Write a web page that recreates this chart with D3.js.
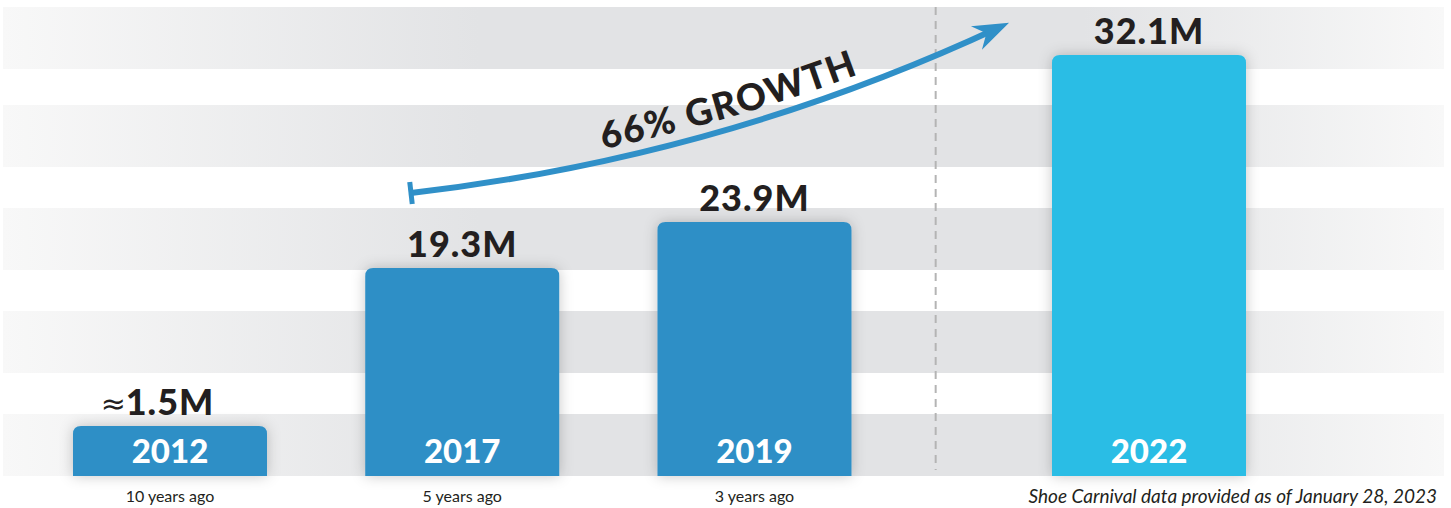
<!DOCTYPE html>
<html>
<head>
<meta charset="utf-8">
<script src="https://cdn.jsdelivr.net/npm/d3@7"></script>
<style>
  html, body { margin: 0; padding: 0; background: #fff; overflow: hidden; }
  svg { display: block; }
</style>
</head>
<body>
<script>
// chart values
const years = ["2012", "2017", "2019", "2022"];
const values = [1.5, 19.3, 23.9, 32.1];          // million
const approx = [true, false, false, false];
const agoLabels = ["10 years ago", "5 years ago", "3 years ago", ""];
const growthLabel = "66% GROWTH";
const footnote = "Shoe Carnival data provided as of January 28, 2023";

const width = 1451, height = 508;
const baseline = 476;

const svg = d3.select("body").append("svg")
    .attr("width", width)
    .attr("height", height);

const defs = svg.append("defs");

// band gradient (fades out at both ends)
const grad = defs.append("linearGradient")
    .attr("id", "bandGrad")
    .attr("x1", "0%").attr("x2", "100%");
grad.append("stop").attr("offset", "0%").attr("stop-color", "#f8f8f8");
grad.append("stop").attr("offset", "33%").attr("stop-color", "#e2e3e5");
grad.append("stop").attr("offset", "75%").attr("stop-color", "#e2e3e5");
grad.append("stop").attr("offset", "100%").attr("stop-color", "#f8f8f8");

// soft glow behind bars
const glow = defs.append("filter")
    .attr("id", "glow")
    .attr("x", "-30%").attr("y", "-30%")
    .attr("width", "160%").attr("height", "160%");
glow.append("feDropShadow")
    .attr("dx", 0).attr("dy", 0)
    .attr("stdDeviation", 7)
    .attr("flood-color", "#000")
    .attr("flood-opacity", 0.22);

// arrow head + start tick
defs.append("marker")
    .attr("id", "head")
    .attr("markerUnits", "userSpaceOnUse")
    .attr("orient", "auto")
    .attr("markerWidth", 1).attr("markerHeight", 1)
    .attr("refX", -10).attr("refY", 0)
    .style("overflow", "visible")
    .append("path")
    .attr("d", "M0,0 L-36,-13 L-25,0 L-36,13 Z")
    .attr("fill", "#3090c8");

defs.append("marker")
    .attr("id", "tick")
    .attr("markerUnits", "userSpaceOnUse")
    .attr("orient", "auto")
    .attr("markerWidth", 1).attr("markerHeight", 1)
    .attr("refX", 0).attr("refY", 0)
    .style("overflow", "visible")
    .append("rect")
    .attr("x", -2.5).attr("y", -11)
    .attr("width", 5).attr("height", 22)
    .attr("fill", "#3090c8");

// x: slot per bar, extra gap before the latest year
const gap = 0.35;
const slot = i => i + (i === years.length - 1 ? gap : 0);
const x = d3.scaleLinear()
    .domain([0, slot(years.length - 1)])
    .range([170, 1149]);
const barWidth = 194;

// y: the infographic is not drawn to scale, so use a broken (polylinear) axis
const y = d3.scaleLinear()
    .domain([0, 1.5, 19.3, 23.9, 32.1])
    .range([baseline, 426, 268, 222, 55]);

// background bands
const bandStep = 103, bandH = 62;
const bands = d3.range(5).map(i => Math.max(7, baseline - bandH - i * bandStep));
svg.append("g").selectAll("rect")
    .data(bands)
    .join("rect")
    .attr("x", 3)
    .attr("width", 1441)
    .attr("y", d => d)
    .attr("height", bandH)
    .attr("fill", "url(#bandGrad)");

// dashed divider
const divX = x(2.62);
svg.append("line")
    .attr("x1", divX).attr("x2", divX)
    .attr("y1", 7).attr("y2", 470)
    .attr("stroke", "#b4b4b4")
    .attr("stroke-width", 2)
    .attr("stroke-dasharray", "8,6");

// bars with rounded top corners
function barPath(cx, top) {
    const r = 8, x0 = cx - barWidth / 2, x1 = cx + barWidth / 2;
    const p = d3.path();
    p.moveTo(x0, baseline);
    p.lineTo(x0, top + r);
    p.quadraticCurveTo(x0, top, x0 + r, top);
    p.lineTo(x1 - r, top);
    p.quadraticCurveTo(x1, top, x1, top + r);
    p.lineTo(x1, baseline);
    p.closePath();
    return p.toString();
}

const data = years.map((yr, i) => ({
    year: yr, value: values[i], approx: approx[i], ago: agoLabels[i], i: i
}));

const g = svg.append("g");

g.selectAll("path.bar")
    .data(data)
    .join("path")
    .attr("class", "bar")
    .attr("d", d => barPath(x(slot(d.i)), y(d.value)))
    .attr("fill", d => d.i === years.length - 1 ? "#2cbde5" : "#2f8fc6")
    .attr("filter", "url(#glow)");

// year labels inside bars
g.selectAll("text.year")
    .data(data)
    .join("text")
    .attr("class", "year")
    .attr("x", d => x(slot(d.i)))
    .attr("y", 463)
    .attr("text-anchor", "middle")
    .attr("fill", "#fff")
    .style("font-family", "Lato, 'Open Sans', sans-serif")
    .style("font-weight", 900)
    .style("font-size", "33px")
    .text(d => d.year);

// value labels
g.selectAll("text.value")
    .data(data)
    .join("text")
    .attr("class", "value")
    .attr("x", d => x(slot(d.i)))
    .attr("y", d => y(d.value) - 11)
    .attr("text-anchor", "middle")
    .attr("fill", "#231f20")
    .style("font-family", "Lato, 'Open Sans', sans-serif")
    .style("font-weight", 900)
    .style("font-size", "36px")
    .style("letter-spacing", "1px")
    .text(d => d.value.toFixed(1) + "M");

// approx sign in front of approximate values
g.selectAll("text.approx")
    .data(data.filter(d => d.approx))
    .join("text")
    .attr("class", "approx")
    .attr("x", d => x(slot(d.i)) - 44)
    .attr("y", d => y(d.value) - 12)
    .attr("text-anchor", "end")
    .attr("fill", "#231f20")
    .style("font-family", "'DejaVu Sans', sans-serif")
    .style("font-size", "30px")
    .text("\u2248");

// "years ago" labels
g.selectAll("text.ago")
    .data(data.filter(d => d.ago))
    .join("text")
    .attr("class", "ago")
    .attr("x", d => x(slot(d.i)))
    .attr("y", 502)
    .attr("text-anchor", "middle")
    .attr("fill", "#231f20")
    .style("font-family", "Lato, 'Open Sans', sans-serif")
    .style("font-size", "16px")
    .text(d => d.ago);

// growth arrow
const arrow = d3.path();
arrow.moveTo(411, 193);
arrow.bezierCurveTo(611, 170, 805, 118, 1000, 27);
svg.append("path")
    .attr("d", arrow.toString())
    .attr("fill", "none")
    .attr("stroke", "#3090c8")
    .attr("stroke-width", 6)
    .attr("marker-start", "url(#tick)")
    .attr("marker-end", "url(#head)");

// text riding above the arrow
const textPathD = d3.path();
textPathD.moveTo(411, 181);
textPathD.bezierCurveTo(611, 158, 805, 106, 1000, 15);
defs.append("path").attr("id", "growthPath").attr("d", textPathD.toString());
svg.append("text")
    .attr("fill", "#231f20")
    .style("font-family", "Lato, 'Open Sans', sans-serif")
    .style("font-weight", 900)
    .style("font-size", "37px")
    .style("letter-spacing", "1.5px")
    .append("textPath")
    .attr("href", "#growthPath")
    .attr("startOffset", 195)
    .text(growthLabel);

// footnote
svg.append("text")
    .attr("x", 1437)
    .attr("y", 503)
    .attr("text-anchor", "end")
    .attr("fill", "#231f20")
    .style("font-family", "Lato, 'Open Sans', sans-serif")
    .style("font-style", "italic")
    .style("font-size", "19px")
    .text(footnote);
</script>
</body>
</html>
